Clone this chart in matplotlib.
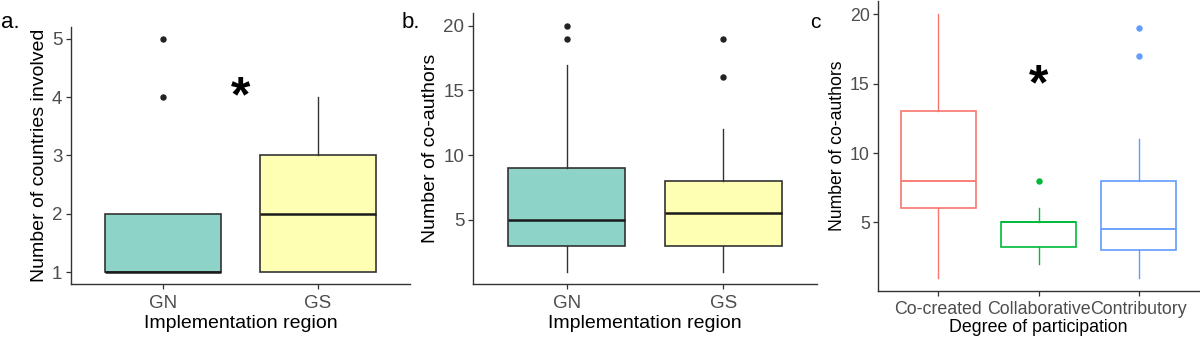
import matplotlib
matplotlib.use("Agg")
import matplotlib.pyplot as plt

plt.rcParams['font.family'] = ['Liberation Sans', 'DejaVu Sans']

# ---- Panel a: Number of countries involved by implementation region ----
a_groups = ["GN", "GS"]
a_whislo = [1, 1]
a_q1 = [1, 1]
a_med = [1, 2]
a_q3 = [2, 3]
a_whishi = [2, 4]
a_fliers = [[4, 5], []]
a_fill = ["#8DD3C7", "#FFFFB3"]

# ---- Panel b: Number of co-authors by implementation region ----
b_groups = ["GN", "GS"]
b_whislo = [1, 1]
b_q1 = [3, 3]
b_med = [5, 5.5]
b_q3 = [9, 8]
b_whishi = [17, 12]
b_fliers = [[19, 20], [16, 19]]
b_fill = ["#8DD3C7", "#FFFFB3"]

# ---- Panel c: Number of co-authors by degree of participation ----
c_groups = ["Co-created", "Collaborative", "Contributory"]
c_whislo = [1, 2, 1]
c_q1 = [6, 3.25, 3]
c_med = [8, 5, 4.5]
c_q3 = [13, 5, 8]
c_whishi = [20, 6, 11]
c_fliers = [[], [8], [17, 19]]
c_colors = ["#F8766D", "#00BA38", "#619CFF"]

SPINE = "#333333"
TICKC = "#4D4D4D"


def make_stats(groups, lo, q1, med, q3, hi, fl):
    return [dict(label=g, whislo=lo[i], q1=q1[i], med=med[i], q3=q3[i],
                 whishi=hi[i], fliers=fl[i]) for i, g in enumerate(groups)]


def style_axes(ax, tick_fs, xpad=2.5):
    for s in ["top", "right"]:
        ax.spines[s].set_visible(False)
    for s in ["left", "bottom"]:
        ax.spines[s].set_color(SPINE)
        ax.spines[s].set_linewidth(1.0)
    ax.tick_params(axis="both", colors=SPINE, labelcolor=TICKC,
                   labelsize=tick_fs, length=3.5, width=0.9, pad=2.5)
    ax.tick_params(axis="x", pad=xpad)


fig = plt.figure(figsize=(12, 3.38), dpi=100)

# Panel a
ax_a = fig.add_axes([0.0589, 0.1598, 0.283, 0.7604])
stats = make_stats(a_groups, a_whislo, a_q1, a_med, a_q3, a_whishi, a_fliers)
bp = ax_a.bxp(stats, positions=[1, 2], widths=0.75, patch_artist=True,
              showcaps=False,
              boxprops=dict(edgecolor=SPINE, linewidth=1.2),
              medianprops=dict(color="#1a1a1a", linewidth=1.8),
              whiskerprops=dict(color=SPINE, linewidth=1.0),
              flierprops=dict(marker="o", markerfacecolor="#222222",
                              markeredgecolor="#222222", markersize=3.6))
for patch, c in zip(bp["boxes"], a_fill):
    patch.set_facecolor(c)
ax_a.set_xlim(0.4, 2.6)
ax_a.set_ylim(0.8, 5.2)
ax_a.set_yticks([1, 2, 3, 4, 5])
style_axes(ax_a, 13.5, xpad=4.5)
ax_a.set_ylabel("Number of countries involved", fontsize=14, labelpad=3)
ax_a.set_xlabel("Implementation region", fontsize=14, labelpad=2)
ax_a.text(1.5, 3.75, "*", fontsize=36, fontweight="bold", ha="center",
          va="baseline")

# Panel b
ax_b = fig.add_axes([0.3939, 0.1598, 0.2872, 0.8006])
stats = make_stats(b_groups, b_whislo, b_q1, b_med, b_q3, b_whishi, b_fliers)
bp = ax_b.bxp(stats, positions=[1, 2], widths=0.75, patch_artist=True,
              showcaps=False,
              boxprops=dict(edgecolor=SPINE, linewidth=1.2),
              medianprops=dict(color="#1a1a1a", linewidth=1.8),
              whiskerprops=dict(color=SPINE, linewidth=1.0),
              flierprops=dict(marker="o", markerfacecolor="#222222",
                              markeredgecolor="#222222", markersize=3.6))
for patch, c in zip(bp["boxes"], b_fill):
    patch.set_facecolor(c)
ax_b.set_xlim(0.4, 2.6)
ax_b.set_ylim(0.05, 20.95)
ax_b.set_yticks([5, 10, 15, 20])
style_axes(ax_b, 13.5, xpad=4.5)
ax_b.set_ylabel("Number of co-authors", fontsize=14, labelpad=3)
ax_b.set_xlabel("Implementation region", fontsize=14, labelpad=2)

# Panel c
ax_c = fig.add_axes([0.7317, 0.139, 0.2675, 0.8577])
stats = make_stats(c_groups, c_whislo, c_q1, c_med, c_q3, c_whishi, c_fliers)
bp = ax_c.bxp(stats, positions=[1, 2, 3], widths=0.75, patch_artist=True,
              showcaps=False,
              boxprops=dict(linewidth=1.2),
              medianprops=dict(linewidth=1.3),
              whiskerprops=dict(linewidth=1.0),
              flierprops=dict(marker="o", markersize=3.6))
for i, c in enumerate(c_colors):
    bp["boxes"][i].set_facecolor("white")
    bp["boxes"][i].set_edgecolor(c)
    bp["medians"][i].set_color(c)
    bp["whiskers"][2 * i].set_color(c)
    bp["whiskers"][2 * i + 1].set_color(c)
    bp["fliers"][i].set_markerfacecolor(c)
    bp["fliers"][i].set_markeredgecolor(c)
ax_c.set_xlim(0.4, 3.6)
ax_c.set_ylim(0.05, 20.95)
ax_c.set_yticks([5, 10, 15, 20])
style_axes(ax_c, 12.8, xpad=3.5)
ax_c.set_ylabel("Number of co-authors", fontsize=12.7, labelpad=3)
ax_c.set_xlabel("Degree of participation", fontsize=12.8, labelpad=1)
ax_c.text(2, 13.9, "*", fontsize=36, fontweight="bold", ha="center",
          va="baseline")

# Panel labels
fig.text(0.001, 0.917, "a.", fontsize=16, va="baseline", ha="left")
fig.text(0.335, 0.917, "b.", fontsize=16, va="baseline", ha="left")
fig.text(0.675, 0.916, "c", fontsize=15, va="baseline", ha="left")

fig.savefig("out.png", dpi=100)
